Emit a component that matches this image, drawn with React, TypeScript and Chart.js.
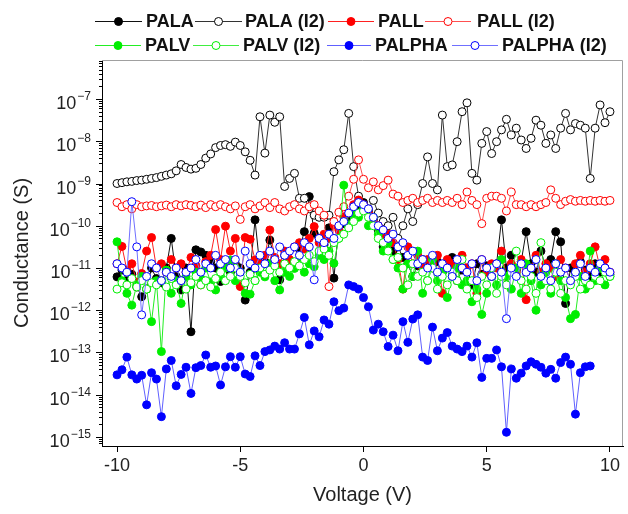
import { useEffect, useRef } from 'react';
import { Chart, registerables } from 'chart.js';

Chart.register(...registerables);

// Bias voltage (V)
const voltage = [
  -10, -9.8, -9.6, -9.4, -9.2, -9, -8.8, -8.6, -8.4, -8.2,
  -8, -7.8, -7.6, -7.4, -7.2, -7, -6.8, -6.6, -6.4, -6.2,
  -6, -5.8, -5.6, -5.4, -5.2, -5, -4.8, -4.6, -4.4, -4.2,
  -4, -3.8, -3.6, -3.4, -3.2, -3, -2.8, -2.6, -2.4, -2.2,
  -2, -1.8, -1.6, -1.4, -1.2, -1, -0.8, -0.6, -0.4, -0.2,
  0,
  0.2, 0.4, 0.6, 0.8, 1, 1.2, 1.4, 1.6, 1.8, 2,
  2.2, 2.4, 2.6, 2.8, 3, 3.2, 3.4, 3.6, 3.8, 4,
  4.2, 4.4, 4.6, 4.8, 5, 5.2, 5.4, 5.6, 5.8, 6,
  6.2, 6.4, 6.6, 6.8, 7, 7.2, 7.4, 7.6, 7.8, 8,
  8.2, 8.4, 8.6, 8.8, 9, 9.2, 9.4, 9.6, 9.8, 10,
];

// Conductance, given as log10(G / S)
const palaLog = [
  -11.21, -11.05, -11.3, -11.15, -11.45, -11.68, -11.5, -11.0, -11.25, -11.35,
  -11.0, -10.3, -11.2, -11.52, -11.0, -12.51, -10.57, -10.62, -10.7, -10.85,
  -11.0, -11.32, -10.95, -11.1, -10.9, -11.0, -11.76, -11.1, -9.86, -11.0,
  -10.85, -10.34, -10.8, -11.28, -10.7, -10.85, -10.97, -10.55, -10.14, -9.31,
  -10.18, -10.3, -10.45, -10.05, -11.24, -10.0, -9.95, -9.8, -9.7, -9.6,
  -9.45,
  -9.65, -9.85, -10.1, -10.5, -10.35, -10.6, -10.5, -10.75, -10.9, -11.2,
  -10.95, -10.8, -10.9, -11.0, -10.85, -11.1, -10.95, -10.75, -11.3, -11.05,
  -11.0, -11.4, -10.9, -11.15, -10.95, -11.2, -10.9, -9.86, -11.0, -10.7,
  -11.05, -10.85, -10.14, -10.9, -11.1, -10.6, -11.0, -10.8, -10.14, -10.38,
  -11.84, -11.0, -11.1, -10.85, -11.05, -11.2, -10.9, -11.1, -11.0, -11.15,
];

const palaI2Log = [
  -9.0, -8.98, -8.96, -8.95, -8.93, -8.92, -8.9, -8.88, -8.86, -8.83,
  -8.8, -8.77, -8.7, -8.55, -8.62, -8.66, -8.64, -8.55, -8.4, -8.3,
  -8.15, -8.1, -8.08, -8.12, -8.02, -8.1, -8.25, -8.45, -8.8, -7.42,
  -8.28, -7.38, -7.55, -7.42, -9.07, -8.88, -8.76, -9.35, -9.35, -9.6,
  -9.75, -9.8, -9.8, -9.75, -8.72, -8.44, -8.2, -7.34, -8.6, -9.3,
  -9.5,
  -9.6, -9.4, -9.7, -9.9, -10.0, -9.8, -10.3, -10.0, -9.6, -9.9,
  -9.5, -9.0, -8.37, -9.0, -9.15, -7.38, -8.6, -8.56, -8.01, -7.3,
  -7.09, -8.76, -8.92, -8.05, -7.77, -8.29, -8.01, -7.73, -7.48, -7.85,
  -7.69, -7.97, -8.17, -7.93, -7.5, -7.62, -8.05, -7.85, -8.17, -7.69,
  -7.34, -7.73, -7.58, -7.62, -7.69, -8.88, -7.69, -7.14, -7.56, -7.3,
];

const pallLog = [
  -10.9, -10.49, -11.05, -10.9, -11.33, -11.13, -10.6, -10.28, -11.0, -10.9,
  -11.1, -10.8, -11.0, -10.9, -11.1, -10.75, -10.95, -11.4, -10.85, -10.7,
  -10.09, -10.8, -10.01, -10.6, -10.3, -11.44, -10.28, -10.32, -10.81, -10.9,
  -10.7, -10.1, -10.75, -10.9, -10.6, -10.8, -10.5, -10.4, -10.55, -10.3,
  -10.02, -10.4, -10.2, -10.3, -9.98, -10.1, -9.79, -9.7, -9.5, -9.39,
  -9.5,
  -9.7, -9.9, -10.0, -10.3, -10.2, -10.4, -10.8, -11.5, -10.5, -10.9,
  -10.7, -11.0, -10.8, -10.9, -10.7, -11.6, -10.8, -10.9, -11.0, -10.7,
  -11.0, -10.9, -11.6, -10.8, -11.1, -10.9, -11.0, -10.6, -11.2, -10.9,
  -11.1, -10.8, -11.75, -11.0, -10.7, -11.1, -10.9, -11.0, -11.2, -10.8,
  -11.0, -11.3, -10.9, -10.7, -11.1, -10.9, -10.5, -11.0, -10.8, -11.1,
];

const pallI2Log = [
  -9.45, -9.55, -9.5, -9.6, -9.5, -9.55, -9.53, -9.52, -9.55, -9.53,
  -9.51, -9.55, -9.5, -9.53, -9.5, -9.52, -9.55, -9.51, -9.57, -9.5,
  -9.55, -9.5, -9.55, -9.6, -9.53, -9.85, -9.55, -9.5, -9.6, -9.53,
  -9.45, -9.57, -9.45, -9.6, -9.65, -9.55, -9.5, -9.6, -9.65, -9.55,
  -9.5, -9.65, -9.75, -11.44, -9.9, -9.68, -9.55, -9.3, -8.9, -8.44,
  -8.9,
  -9.1, -8.96, -9.15, -9.05, -8.92, -9.25, -9.3, -9.45, -9.4, -9.35,
  -9.45, -9.4, -9.35, -9.45, -9.4, -9.45, -9.4, -9.45, -9.35, -9.5,
  -9.2, -9.4, -9.5, -9.95, -9.35, -9.3, -9.3, -9.35, -9.65, -9.2,
  -9.5, -9.5, -9.55, -9.5, -9.55, -9.5, -9.45, -9.15, -9.35, -9.5,
  -9.42, -9.38, -9.42, -9.4, -9.42, -9.4, -9.42, -9.4, -9.42, -9.4,
];

const palvLog = [
  -10.38, -11.3, -11.6, -11.88, -11.4, -11.2, -11.5, -12.27, -11.3, -12.98,
  -11.05, -11.6, -11.3, -11.84, -11.2, -11.4, -11.1, -11.25, -11.0, -11.33,
  -11.52, -11.2, -11.0, -10.81, -11.3, -11.1, -11.6, -11.62, -11.3, -11.1,
  -11.21, -10.9, -11.3, -11.52, -11.1, -11.2, -11.01, -10.85, -11.1, -10.9,
  -10.97, -10.7, -10.8, -10.6, -10.89, -10.3, -9.04, -10.0, -9.75, -9.8,
  -9.6,
  -10.0, -9.8, -10.2, -10.6, -10.4, -10.8, -11.0, -11.5, -10.9, -11.2,
  -10.6, -11.6, -11.3, -10.8, -11.3, -11.1, -11.7, -11.2, -11.0, -11.4,
  -11.3, -11.8, -11.5, -12.1, -11.6, -11.0, -11.4, -10.8, -11.2, -11.5,
  -11.0, -11.6, -10.9, -11.3, -12.0, -11.4, -11.1, -11.6, -10.9, -11.3,
  -11.7, -12.2, -12.1, -11.2, -11.5, -10.6, -11.3, -11.0, -11.4, -11.2,
];

const palvI2Log = [
  -11.5, -11.35, -11.4, -11.25, -11.45, -11.3, -11.5, -11.35, -11.4, -11.3,
  -11.45, -11.25, -11.4, -11.3, -11.5, -11.35, -11.2, -11.4, -11.3, -11.45,
  -11.25, -11.1, -11.3, -11.2, -11.0, -11.2, -11.35, -11.15, -11.3, -11.0,
  -11.15, -11.05, -10.95, -11.1, -10.9, -11.0, -10.85, -10.95, -10.8, -10.7,
  -10.85, -10.6, -10.55, -10.7, -10.4, -10.3, -10.2, -10.05, -9.9, -9.7,
  -9.65,
  -9.8, -10.0, -10.3, -10.4, -10.6, -10.8, -10.75, -11.0, -11.4, -10.9,
  -11.2, -11.1, -11.3, -11.0, -11.5, -11.2, -11.4, -11.1, -11.3, -10.8,
  -11.5, -11.3, -11.7, -11.2, -11.4, -11.0, -11.6, -11.2, -11.4, -11.1,
  -10.6, -11.3, -11.5, -11.2, -11.6, -10.4, -11.3, -11.5, -11.1, -11.6,
  -11.3, -11.4, -11.2, -11.5, -11.3, -11.4, -11.2, -11.3, -11.1, -11.2,
];

const palphaLog = [
  -13.53, -13.41, -13.11, -13.53, -13.63, -13.54, -14.24, -13.48, -13.63, -14.52,
  -13.39, -13.19, -13.79, -13.52, -13.35, -13.97, -13.36, -13.31, -13.06, -13.35,
  -13.32, -13.77, -13.34, -13.1, -13.35, -13.1, -13.51, -13.57, -13.08, -13.31,
  -12.98, -12.94, -12.85, -12.92, -12.77, -12.92, -12.92, -12.56, -12.17, -12.82,
  -12.49, -12.63, -12.23, -12.33, -11.8, -12.01, -11.95, -11.4, -11.44, -11.5,
  -11.7,
  -11.92, -12.47, -12.33, -12.51, -12.86, -12.59, -12.96, -12.27, -12.76, -12.21,
  -12.11, -13.11, -13.19, -12.4, -12.96, -12.66, -12.53, -12.85, -12.92, -12.98,
  -12.85, -13.11, -12.77, -13.59, -13.14, -13.14, -12.94, -13.34, -14.89, -13.39,
  -13.61, -13.49, -13.32, -13.22, -13.28, -13.35, -13.49, -13.4, -13.61, -13.24,
  -13.11, -13.28, -14.46, -13.48, -13.34, -13.32, null, null, null, null,
];

const palphaI2Log = [
  -10.9, -11.0, -11.1, -9.43, -10.5, -12.11, -11.2, -10.9, -11.0, -11.3,
  -11.1, -11.2, -11.0, -11.3, -11.1, -11.0, -10.8, -11.1, -10.9, -11.0,
  -10.7, -10.9, -10.8, -11.0, -10.8, -11.1, -10.6, -10.9, -11.0, -10.7,
  -10.9, -10.6, -10.8, -10.5, -10.7, -10.6, -10.5, -10.7, -10.4, -10.5,
  -11.28, -10.3, -10.4, -10.2, -10.3, -10.0, -9.9, -9.7, -9.55, -9.45,
  -9.5,
  -9.6, -9.8, -10.0, -10.1, -10.3, -10.2, -10.5, -10.4, -10.7, -10.6,
  -10.9, -10.8, -11.0, -10.7, -11.1, -10.9, -11.0, -11.2, -10.8, -11.0,
  -11.1, -10.9, -11.3, -10.8, -11.0, -11.2, -10.9, -11.1, -12.2, -11.0,
  -11.2, -10.9, -11.1, -11.0, -10.8, -11.2, -11.0, -11.3, -10.9, -11.1,
  -11.0, -11.3, -11.1, -10.9, -11.2, -11.0, -11.1, -10.9, -11.0, -11.1,
];

const seriesNames = ['PALA', 'PALA (I2)', 'PALL', 'PALL (I2)', 'PALV', 'PALV (I2)', 'PALPHA', 'PALPHA (I2)'];
const xTickValues = [-10, -5, 0, 5, 10];
const yTickExponents = [-15, -14, -13, -12, -11, -10, -9, -8, -7];

const FONT = '"Liberation Sans", Arial, Helvetica, sans-serif';

const seriesLogs = [palaLog, palaI2Log, pallLog, pallI2Log, palvLog, palvI2Log, palphaLog, palphaI2Log];
const seriesColors = ['#000000', '#000000', '#ff0000', '#ff0000', '#00ee00', '#00ee00', '#0000ff', '#0000ff'];
const seriesLineColors = ['#111111', '#333333', '#ff2020', '#ff5050', '#22ee22', '#40ee40', '#6060ff', '#7070ff'];
const seriesOpen = [false, true, false, true, false, true, false, true];

const legendLayout = [
  { x0: 95, x1: 142, tx: 146, y: 21 },
  { x0: 195, x1: 242, tx: 245, y: 21 },
  { x0: 328, x1: 374, tx: 378, y: 21 },
  { x0: 425, x1: 471, tx: 477, y: 21 },
  { x0: 95, x1: 141, tx: 145, y: 45 },
  { x0: 193, x1: 239, tx: 243, y: 45 },
  { x0: 327, x1: 371, tx: 375, y: 45 },
  { x0: 452, x1: 498, tx: 502, y: 45 },
];

const decorPlugin = {
  id: 'decor',
  afterDraw(chart: any) {
    const { ctx, chartArea: a, scales } = chart;
    const ys = scales.y;
    ctx.save();
    // top and right frame
    ctx.strokeStyle = '#a0a0a0';
    ctx.lineWidth = 1;
    ctx.beginPath();
    ctx.moveTo(a.left, a.top + 0.5);
    ctx.lineTo(a.right - 0.5, a.top + 0.5);
    ctx.lineTo(a.right - 0.5, a.bottom);
    ctx.stroke();

    // y ticks (major + minor)
    ctx.strokeStyle = '#000';
    for (let e = -16; e <= -7; e++) {
      for (let m = 1; m <= 9; m++) {
        const v = m * Math.pow(10, e);
        if (v < ys.min || v > ys.max) continue;
        const py = Math.round(ys.getPixelForValue(v)) + 0.5;
        const len = m === 1 ? 6 : 3;
        ctx.beginPath();
        ctx.moveTo(a.left - len, py);
        ctx.lineTo(a.left, py);
        ctx.stroke();
      }
    }
    // y labels 10^n
    ctx.fillStyle = '#222';
    ctx.textAlign = 'left';
    ctx.textBaseline = 'alphabetic';
    for (const e of yTickExponents) {
      const py = ys.getPixelForValue(Math.pow(10, e));
      const expText = '\u2212' + String(-e);
      ctx.font = `12px ${FONT}`;
      const ew = ctx.measureText(expText).width;
      ctx.font = `18px ${FONT}`;
      const bw = ctx.measureText('10').width;
      const right = a.left - 11;
      const bx = right - ew - bw - 1;
      ctx.fillText('10', bx, py + 10);
      ctx.font = `12px ${FONT}`;
      ctx.fillText(expText, bx + bw + 1, py + 1);
    }

    // legend
    chart.data.datasets.forEach((ds: any, i: number) => {
      const L = legendLayout[i];
      ctx.strokeStyle = seriesLineColors[i];
      ctx.lineWidth = 1;
      ctx.beginPath();
      ctx.moveTo(L.x0, L.y + 0.5);
      ctx.lineTo(L.x1, L.y + 0.5);
      ctx.stroke();
      const cx = (L.x0 + L.x1) / 2;
      ctx.beginPath();
      ctx.arc(cx, L.y + 0.5, 4, 0, Math.PI * 2);
      ctx.fillStyle = seriesOpen[i] ? '#ffffff' : seriesColors[i];
      ctx.fill();
      ctx.strokeStyle = seriesColors[i];
      ctx.stroke();
      ctx.fillStyle = '#111';
      ctx.font = `bold 18px ${FONT}`;
      ctx.textBaseline = 'middle';
      ctx.textAlign = 'left';
      ctx.fillText(ds.label, L.tx, L.y + 1);
    });
    ctx.restore();
  },
};

export default function App() {
  const canvasRef = useRef<HTMLCanvasElement>(null);

  useEffect(() => {
    document.body.style.margin = '0';
    const canvas = canvasRef.current;
    if (!canvas) return;

    const datasets = seriesNames.map((name, i) => ({
      label: name,
      data: voltage.map((v, k) => ({ x: v, y: seriesLogs[i][k] == null ? null : Math.pow(10, seriesLogs[i][k] as number) })),
      borderColor: seriesLineColors[i],
      borderWidth: 1,
      backgroundColor: seriesColors[i],
      pointRadius: 4,
      pointHoverRadius: 4,
      pointBorderWidth: 1,
      pointBorderColor: seriesColors[i],
      pointBackgroundColor: seriesOpen[i] ? '#ffffff' : seriesColors[i],
      tension: 0,
      spanGaps: false,
      order: seriesNames.length - 1 - i,
    }));

    const chart = new Chart(canvas, {
      type: 'line',
      data: { datasets },
      plugins: [decorPlugin],
      options: {
        responsive: false,
        devicePixelRatio: 1,
        animation: false,
        events: [],
        layout: { padding: { top: 60, right: 3, left: 0, bottom: 0 } },
        plugins: { legend: { display: false }, tooltip: { enabled: false } },
        scales: {
          x: {
            type: 'linear',
            position: 'bottom',
            min: -10.61,
            max: 10.53,
            afterBuildTicks: (s: any) => {
              s.ticks = xTickValues.map((v) => ({ value: v }));
            },
            afterFit: (s: any) => {
              s.height = 68;
            },
            ticks: {
              font: { family: FONT, size: 18 },
              color: '#222',
              padding: 3,
              maxRotation: 0,
              autoSkip: false,
              callback: (v: any) => String(v),
            },
            grid: { display: true, drawOnChartArea: false, drawTicks: true, tickLength: 6, color: '#000', lineWidth: 1 },
            border: { display: true, color: '#000', width: 1 },
            title: {
              display: true,
              text: 'Voltage (V)',
              font: { family: FONT, size: 20 },
              color: '#222',
              padding: { top: 0, bottom: 7 },
            },
          },
          y: {
            type: 'logarithmic',
            position: 'left',
            min: 6.1e-16,
            max: 8.4e-7,
            afterFit: (s: any) => {
              s.width = 102;
            },
            ticks: { display: false },
            grid: { display: false },
            border: { display: true, color: '#000', width: 1 },
            title: {
              display: true,
              text: 'Conductance (S)',
              font: { family: FONT, size: 20 },
              color: '#222',
              padding: { top: 10, bottom: 0 },
            },
          },
        },
      },
    } as any);

    return () => chart.destroy();
  }, []);

  return (
    <div style={{ width: 628, height: 514, background: '#fff' }}>
      <canvas ref={canvasRef} width={628} height={514} style={{ display: 'block' }} />
    </div>
  );
}
